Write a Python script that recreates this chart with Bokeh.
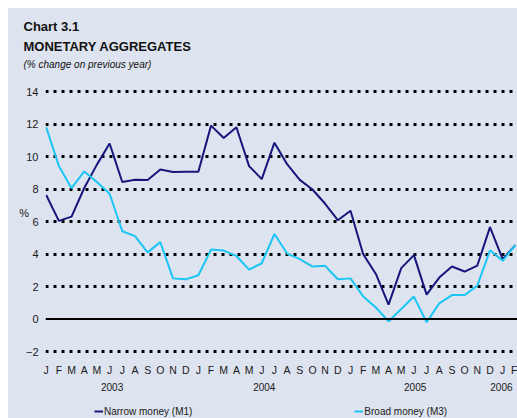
from bokeh.plotting import figure
from bokeh.layouts import column
from bokeh.models import FixedTicker, LinearAxis, Span, Legend, LegendItem, Range1d, Title
from bokeh.embed import file_html
from bokeh.resources import INLINE

# ---- data (Jan 2003 .. Feb 2006), % change on previous year ----
month_letters = list("JFMAMJJASOND") * 3 + ["J", "F"]
year_labels = ["2003", "2004", "2005", "2006"]
narrow_m1 = [7.63, 6.04, 6.30, 8.06, 9.50, 10.80, 8.43, 8.57, 8.55, 9.20, 9.04, 9.06,
             9.06, 11.90, 11.14, 11.80, 9.41, 8.61, 10.85, 9.53, 8.56, 7.97, 7.09, 6.08,
             6.66, 3.99, 2.77, 0.88, 3.13, 3.93, 1.50, 2.55, 3.23, 2.92, 3.29, 5.65,
             3.68, 4.55]
broad_m3 = [11.80, 9.41, 8.05, 9.08, 8.43, 7.71, 5.40, 5.10, 4.10, 4.73, 2.50, 2.44,
            2.69, 4.27, 4.21, 3.88, 3.04, 3.43, 5.23, 4.03, 3.68, 3.23, 3.27, 2.45,
            2.50, 1.39, 0.71, -0.15, 0.62, 1.38, -0.20, 0.96, 1.47, 1.47, 2.05, 4.23,
            3.58, 4.55]
y_ticks = [-2, 0, 2, 4, 6, 8, 10, 12, 14]
series_names = ["Narrow money (M1)", "Broad money (M3)"]
title_lines = ["Chart 3.1", "MONETARY AGGREGATES", "(% change on previous year)"]

# ---- layout constants ----
BG = "#dde3ef"
C_M1 = "#16167c"
C_M3 = "#1cc6f4"
FONT = "Liberation Sans"
TXT = "#1a1a1a"
PX_PER_UNIT = 16.25
MAIN_H = 396
LEG_H = 14
FRAME_TOP = 64       # canvas px
FRAME_BOTTOM = 345   # canvas px
x_idx = list(range(len(narrow_m1)))
X0 = -0.055
X1 = X0 + 472 / 12.68
Y_TOP = 14 + (83 - FRAME_TOP) / PX_PER_UNIT
Y_BOT = -2 - (FRAME_BOTTOM - 343) / PX_PER_UNIT

p = figure(width=509, height=MAIN_H, output_backend="svg", toolbar_location=None,
           x_range=Range1d(X0, X1), y_range=Range1d(Y_BOT, Y_TOP),
           min_border_left=37, min_border_right=0, min_border_top=FRAME_TOP,
           min_border_bottom=MAIN_H - FRAME_BOTTOM,
           background_fill_color=BG, border_fill_color=BG, outline_line_color=None)

# y axis
p.yaxis.ticker = FixedTicker(ticks=y_ticks)
p.yaxis.axis_line_color = None
p.yaxis.major_tick_line_color = None
p.yaxis.minor_tick_line_color = None
p.yaxis.major_label_standoff = 1
p.yaxis.major_label_text_font = FONT
p.yaxis.major_label_text_font_size = "11px"
p.yaxis.major_label_text_color = TXT
p.yaxis.axis_label = "%"
p.yaxis.axis_label_orientation = "horizontal"
p.yaxis.axis_label_standoff = -6
p.yaxis.axis_label_text_font = FONT
p.yaxis.axis_label_text_font_style = "normal"
p.yaxis.axis_label_text_font_size = "11px"
p.yaxis.axis_label_text_color = TXT

# month axis
p.xaxis.ticker = FixedTicker(ticks=x_idx)
p.xaxis.major_label_overrides = {i: m for i, m in zip(x_idx, month_letters)}
p.xaxis.axis_line_color = None
p.xaxis.major_tick_line_color = None
p.xaxis.minor_tick_line_color = None
p.xaxis.major_label_standoff = 4
p.xaxis.major_label_text_font = FONT
p.xaxis.major_label_text_font_size = "10.5px"
p.xaxis.major_label_text_color = TXT

# year axis
year_pos = [5.2, 17.2, 29.1, 35.9]
yax = LinearAxis(ticker=FixedTicker(ticks=year_pos),
                 major_label_overrides={pos: y for pos, y in zip(year_pos, year_labels)},
                 axis_line_color=None, major_tick_line_color=None, minor_tick_line_color=None,
                 major_label_standoff=-2, major_label_text_font=FONT,
                 major_label_text_font_size="10px", major_label_text_color=TXT)
p.add_layout(yax, "below")

# grid
p.xgrid.visible = False
p.ygrid.ticker = FixedTicker(ticks=[t for t in y_ticks if t != 0])
p.ygrid.grid_line_color = "black"
p.ygrid.grid_line_width = 3
p.ygrid.grid_line_dash = "3 5"
p.add_layout(Span(location=0, dimension="width", line_color="black", line_width=2))

p.line(x_idx, narrow_m1, line_color=C_M1, line_width=2)
p.line(x_idx, broad_m3, line_color=C_M3, line_width=2)

# titles (added closest-to-plot first)
p.title = None
p.add_layout(Title(text=title_lines[2], align="left", offset=-22, standoff=5,
                   text_font=FONT, text_font_style="italic", text_font_size="10px",
                   text_color="#111111"), "above")
p.add_layout(Title(text=title_lines[1], align="left", offset=-22, standoff=2,
                   text_font=FONT, text_font_style="bold", text_font_size="13px",
                   text_color="#111111"), "above")
p.add_layout(Title(text=title_lines[0], align="left", offset=-22, standoff=3,
                   text_font=FONT, text_font_style="bold", text_font_size="13px",
                   text_color="#111111"), "above")

# legend strip
leg = figure(width=509, height=LEG_H, output_backend="svg", toolbar_location=None,
             x_range=Range1d(0, 1), y_range=Range1d(0, 1),
             min_border_left=0, min_border_right=0, min_border_top=0, min_border_bottom=0,
             background_fill_color=BG, border_fill_color=BG, outline_line_color=None)
leg.axis.visible = False
leg.grid.visible = False
lr1 = leg.line([-5, -4], [-5, -5], line_color=C_M1, line_width=2)
lr2 = leg.line([-5, -4], [-5, -5], line_color=C_M3, line_width=2)
legend = Legend(items=[LegendItem(label=series_names[0], renderers=[lr1]),
                       LegendItem(label=series_names[1], renderers=[lr2])],
                orientation="horizontal", location=(49, 1),
                padding=0, margin=0, spacing=162, glyph_width=9, glyph_height=12,
                label_height=12, label_standoff=1, label_text_font=FONT,
                label_text_font_size="10px", label_text_color=TXT,
                background_fill_alpha=0, border_line_color=None)
leg.add_layout(legend)

page = column(p, leg, spacing=0)
page.margin = (8, 0, 0, 8)
page.styles = {"background-color": BG}

open("out.html", "w").write(file_html(page, INLINE))
